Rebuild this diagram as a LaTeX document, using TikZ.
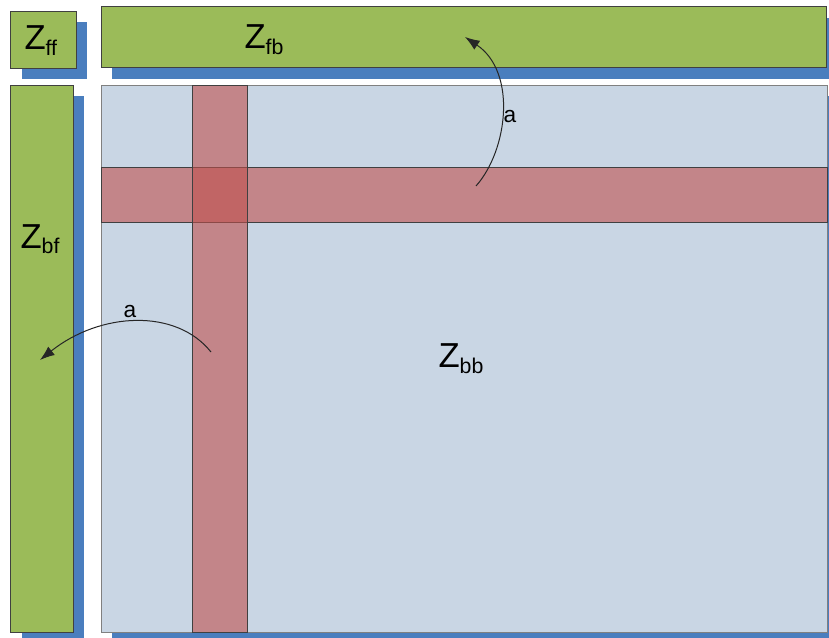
\documentclass[tikz,border=0pt]{standalone}
\usepackage{fontspec}
\setmainfont{Liberation Sans}
\usetikzlibrary{arrows.meta}

\definecolor{blockgreen}{RGB}{155,187,89}
\definecolor{shadowblue}{RGB}{74,126,190}
\definecolor{matrixgray}{RGB}{201,214,228}
\definecolor{bandred}{RGB}{192,80,77}

\newcommand{\zname}[1]{Z{\fontsize{16}{16}\selectfont\raisebox{-4pt}{#1}}}

\tikzset{every picture/.style={line width=0.75pt}}
\tikzset{
  shadowbox/.style={fill=shadowblue, draw=none},
  greenbox/.style={fill=blockgreen, draw=black!75},
  matrixbox/.style={fill=matrixgray, draw=black!50},
  bandbox/.style={fill=bandred, fill opacity=0.6, draw=black!75},
  bigtext/.style={inner sep=0pt, anchor=base west, font=\fontsize{26}{26}\selectfont},
  smalltext/.style={inner sep=0pt, font=\fontsize{17}{17}\selectfont},
  swapline/.style={draw=black!85, line width=0.75pt, -{Latex[length=11pt,width=8pt]}}
}

\begin{document}
\begin{tikzpicture}[x=0.75pt,y=0.75pt,yscale=-1]
	\clip (0,0) rectangle (829,638);
	\fill [white] (0,0) rectangle (829,638);

	%Shape: Shadows
	\path [shadowbox] (22,22) rectangle (87,79);
	\path [shadowbox] (112,18) rectangle (840,79);
	\path [shadowbox] (22,96) rectangle (84,645);
	\path [shadowbox] (112,96) rectangle (840,645);

	%Shape: Rectangle Zff
	\draw [greenbox] (10,12) rectangle (76,69);
	%Shape: Rectangle Zfb
	\draw [greenbox] (101,7) rectangle (826,68);
	%Shape: Rectangle Zbf
	\draw [greenbox] (10,86) rectangle (73,632);
	%Shape: Rectangle Zbb
	\draw [matrixbox] (101,86) rectangle (827,632);

	%Shape: Rectangle row band
	\draw [bandbox] (101,168) rectangle (827,223);
	%Shape: Rectangle column band
	\draw [bandbox] (192,86) rectangle (247,632);

	% Arrow ends
	\coordinate (rowstart) at (476,186);
	\coordinate (rowend) at (465,37);
	\coordinate (colstart) at (211,352);
	\coordinate (colend) at (40,360);

	%Curve Lines
	\draw [swapline] (rowstart) .. controls (508,150) and (517,72) .. (rowend);
	%Curve Lines
	\draw [swapline] (colstart) .. controls (176,308) and (100,312) .. (colend);

	% Text Node
	\node [bigtext] (zff) at (24,50) {\zname{ff}};
	% Text Node
	\node [bigtext] (zfb) at (244,49) {\zname{fb}};
	% Text Node
	\node [bigtext] (zbf) at (20,248) {\zname{bf}};
	% Text Node
	\node [bigtext] (zbb) at (438,368) {\zname{bb}};
	% Text Node
	\node [smalltext] (rowlabel) at (510,117) {a};
	% Text Node
	\node [smalltext] (collabel) at (130,312) {a};
\end{tikzpicture}
\end{document}
